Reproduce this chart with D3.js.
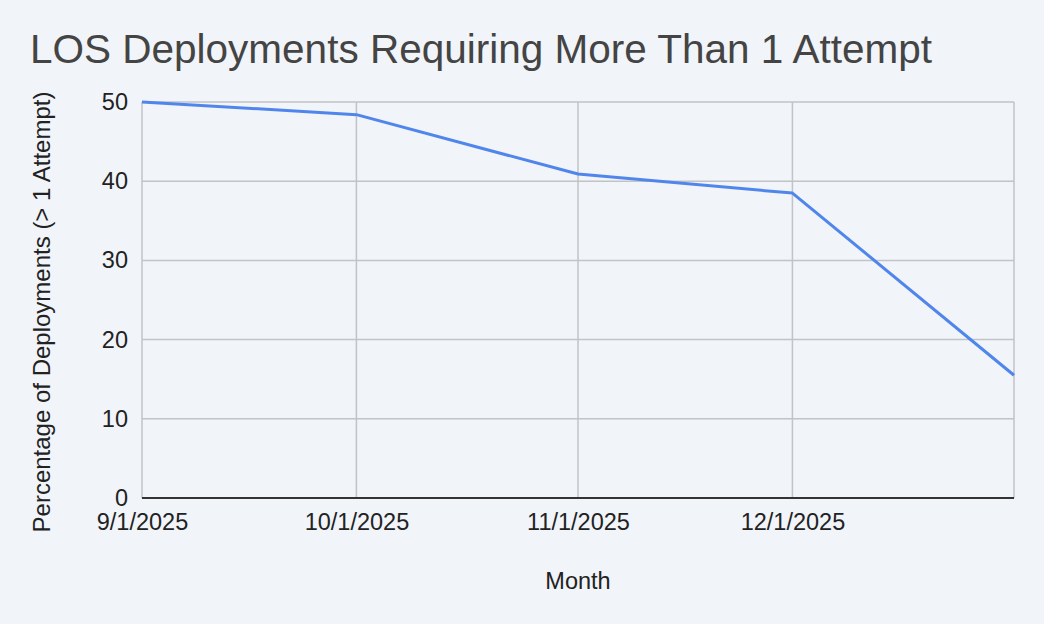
<!DOCTYPE html>
<html>
<head>
<meta charset="utf-8">
<script src="https://cdn.jsdelivr.net/npm/d3@7"></script>
<style>
  html, body { margin: 0; padding: 0; background: #f1f4f9; }
  svg { display: block; font-family: "Liberation Sans", Arial, Helvetica, sans-serif; }
</style>
</head>
<body>
<svg id="chart" width="1044" height="624"></svg>
<script>
const title = "LOS Deployments Requiring More Than 1 Attempt";
const xTitle = "Month";
const yTitle = "Percentage of Deployments (> 1 Attempt)";
const months = ["2025-09-01", "2025-10-01", "2025-11-01", "2025-12-01", "2026-01-01"];
const values = [50, 48.4, 40.9, 38.5, 15.5];
const xTickLabels = ["9/1/2025", "10/1/2025", "11/1/2025", "12/1/2025"];
const yTicks = [0, 10, 20, 30, 40, 50];

const parse = d3.utcParse("%Y-%m-%d");
const dates = months.map(parse);
const data = dates.map((d, i) => ({ date: d, value: values[i] }));

const svg = d3.select("#chart");
const W = 1044, H = 624;
const margin = { left: 142, right: 30, top: 102, bottom: 126 };
const tickFont = 23.5;

svg.append("rect").attr("width", W).attr("height", H).attr("fill", "#f1f4f9");

const x = d3.scaleUtc().domain(d3.extent(dates)).range([margin.left, W - margin.right]);
const y = d3.scaleLinear().domain([0, 50]).range([H - margin.bottom, margin.top]);

// Grid
const grid = svg.append("g").attr("stroke", "#c1c3c6").attr("stroke-width", 1.5);
grid.selectAll("line.h").data(yTicks.filter(t => t > 0)).join("line")
  .attr("x1", x.range()[0]).attr("x2", x.range()[1])
  .attr("y1", d => y(d)).attr("y2", d => y(d));
grid.selectAll("line.v").data(dates).join("line")
  .attr("x1", d => x(d)).attr("x2", d => x(d))
  .attr("y1", y(50)).attr("y2", y(0));

// Baseline
svg.append("line")
  .attr("x1", x.range()[0]).attr("x2", x.range()[1])
  .attr("y1", y(0)).attr("y2", y(0))
  .attr("stroke", "#333").attr("stroke-width", 2);

// Y axis
const yAxis = d3.axisLeft(y).tickValues(yTicks).tickSize(0).tickPadding(14).tickFormat(d3.format("d"));
svg.append("g").attr("transform", `translate(${margin.left},0)`).call(yAxis)
  .call(g => g.select(".domain").remove())
  .call(g => g.selectAll("text").attr("font-size", tickFont).attr("fill", "#222")
    .attr("font-family", "Liberation Sans, Arial, sans-serif"));

// X axis
const xAxis = d3.axisBottom(x).tickValues(dates.slice(0, xTickLabels.length)).tickSize(0).tickPadding(15)
  .tickFormat((d, i) => xTickLabels[i]);
svg.append("g").attr("transform", `translate(0,${y(0)})`).call(xAxis)
  .call(g => g.select(".domain").remove())
  .call(g => g.selectAll("text").attr("font-size", tickFont).attr("fill", "#222")
    .attr("font-family", "Liberation Sans, Arial, sans-serif"));

// Line
const line = d3.line().x(d => x(d.date)).y(d => y(d.value));
svg.append("path").datum(data).attr("d", line)
  .attr("fill", "none").attr("stroke", "#5086ec").attr("stroke-width", 3)
  .attr("stroke-linejoin", "round");

// Titles
svg.append("text").attr("x", 30).attr("y", 63).text(title)
  .attr("font-size", 40.5).attr("fill", "#444");
svg.append("text").attr("x", (x.range()[0] + x.range()[1]) / 2).attr("y", 589)
  .attr("text-anchor", "middle").attr("font-size", tickFont).attr("fill", "#222").text(xTitle);
svg.append("text")
  .attr("transform", `translate(50, ${(y(0) + y(50)) / 2 + 12}) rotate(-90)`)
  .attr("text-anchor", "middle").attr("font-size", 24).attr("fill", "#222").text(yTitle);
</script>
</body>
</html>
